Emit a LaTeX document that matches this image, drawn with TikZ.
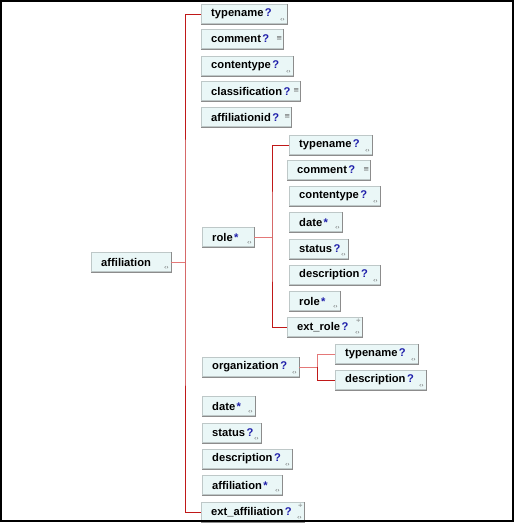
\documentclass[tikz,border=0pt]{standalone}
\usepackage{fontspec}
\newfontfamily\elfamily{Liberation Sans}
\newfontfamily\iconfamily{DejaVu Sans}
\definecolor{boxfill}{RGB}{234,247,247}
\definecolor{boxline}{RGB}{190,200,200}
\definecolor{boxdark}{RGB}{140,140,140}
\definecolor{icongray}{RGB}{90,90,90}
\definecolor{spine}{RGB}{192,24,24}
\definecolor{stubred}{RGB}{228,120,120}
\definecolor{markblue}{RGB}{30,30,170}
\newcommand{\elfont}{\elfamily\bfseries\fontsize{11.2}{13}\selectfont}
% element label: inner width, name, occurrence mark
\newcommand{\el}[3]{\makebox[#1pt][l]{#2\hspace{1.5pt}\textcolor{markblue}{#3}}}

\begin{document}
\begin{tikzpicture}[x=1pt,y=1pt,
    elem/.style={draw=boxline,fill=boxfill,anchor=west,minimum height=19,
      inner ysep=0,inner xsep=10,font=\elfont},
    tree/.style={draw=spine,line width=1},
    stub/.style={draw=stubred,line width=1},
    ctl/.style={font=\iconfamily\fontsize{6}{6}\selectfont,text=icongray,inner sep=0}]
  \useasboundingbox (0,0) rectangle (515,-523);

  \node[elem] (aff) at (91,-262) {\el{60}{affiliation}{}};

  % children of affiliation
  \node[elem] (tn)   at (201,-14)  {\el{66}{typename}{?}};
  \node[elem] (cm)   at (201,-39)  {\el{62}{comment}{?}};
  \node[elem] (ct)   at (201,-66)  {\el{72}{contentype}{?}};
  \node[elem] (cl)   at (201,-91)  {\el{79}{classification}{?}};
  \node[elem] (aid)  at (201,-117) {\el{70}{affiliationid}{?}};
  \node[elem] (role) at (202,-237) {\el{32}{role}{*}};
  \node[elem] (org)  at (202,-367) {\el{77}{organization}{?}};
  \node[elem] (dt)   at (202,-406) {\el{33}{date}{*}};
  \node[elem] (st)   at (202,-433) {\el{39}{status}{?}};
  \node[elem] (ds)   at (202,-459) {\el{70}{description}{?}};
  \node[elem] (af)   at (202,-485) {\el{60}{affiliation}{*}};
  \node[elem] (xaf)  at (201,-512) {\el{83}{ext\_affiliation}{?}};

  % children of role
  \node[elem] (rtn) at (289,-145) {\el{63}{typename}{?}};
  \node[elem] (rcm) at (287,-170) {\el{63}{comment}{?}};
  \node[elem] (rct) at (289,-196) {\el{71}{contentype}{?}};
  \node[elem] (rdt) at (289,-222) {\el{33}{date}{*}};
  \node[elem] (rst) at (289,-249) {\el{39}{status}{?}};
  \node[elem] (rds) at (289,-275) {\el{71}{description}{?}};
  \node[elem] (rrl) at (289,-301) {\el{31}{role}{*}};
  \node[elem] (xrl) at (287,-327) {\el{55}{ext\_role}{?}};

  % children of organization
  \node[elem] (otn) at (335,-354) {\el{63}{typename}{?}};
  \node[elem] (ods) at (335,-380) {\el{71}{description}{?}};

  % shadow edges and icons
  \foreach \n in {aff,tn,cm,ct,cl,aid,role,org,dt,st,ds,af,xaf,
      rtn,rcm,rct,rdt,rst,rds,rrl,xrl,otn,ods}
    \draw[boxdark] (\n.south west) -- (\n.south east) -- (\n.north east);
  \foreach \n in {aff,tn,ct,role,org,dt,st,ds,af,xaf,
      rtn,rct,rdt,rst,rds,rrl,xrl,otn,ods}
    \node[ctl] at ([xshift=-5,yshift=3.5]\n.south east) {‹›};
  \foreach \n in {cm,cl,aid,rcm}
    \node[ctl,font=\iconfamily\fontsize{7}{7}\selectfont] at ([xshift=-4]\n.east) {≡};
  \foreach \n in {xaf,xrl}
    \node[ctl,font=\iconfamily\fontsize{6}{6}\selectfont] at ([xshift=-4,yshift=-4]\n.north east) {÷};

  % connectors
  \coordinate (j1) at (185,-262);
  \coordinate (j2) at (272,-237);
  \coordinate (j3) at (317,-367);
  \draw[stub] (aff.east) -- (j1);
  \draw[tree] (tn.west) -| (j1) |- (xaf.west);
  \draw[stub] (role.east) -- (j2);
  \draw[tree] (rtn.west) -| (j2) |- (xrl.west);
  \draw[stub] (org.east) -- (j3);
  \draw[stub] (otn.west) -| (j3);
  \draw[tree] (j3) |- (ods.west);

  \draw[line width=1.5] (1,-1) rectangle (513,-521);
\end{tikzpicture}
\end{document}
